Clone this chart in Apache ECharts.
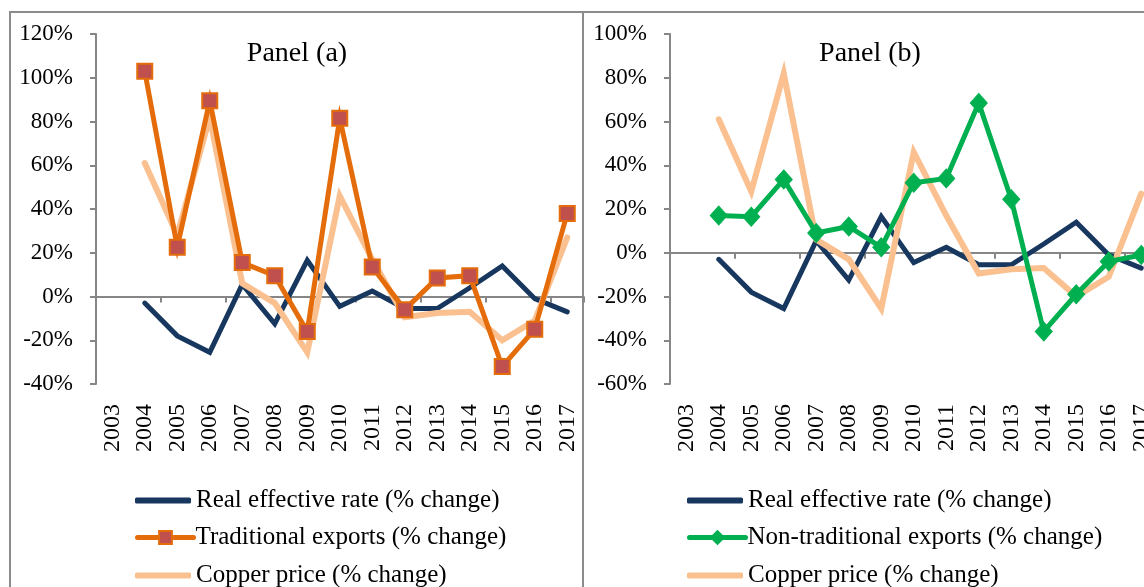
<!DOCTYPE html>
<html>
<head>
<meta charset="utf-8">
<script src="https://cdn.jsdelivr.net/npm/echarts@6/dist/echarts.min.js"></script>
<style>
  html, body { margin: 0; padding: 0; background: #fff; }
  #main { width: 1144px; height: 587px; }
</style>
</head>
<body>
<div id="main"></div>
<script>
// years on the x axis
var years = ['2003', '2004', '2005', '2006', '2007', '2008', '2009', '2010',
  '2011', '2012', '2013', '2014', '2015', '2016', '2017'];

// % change (2003 has no value)
var realRate = [null, -3, -18, -25.5, 5.5, -12.5, 16.5, -4.5, 2.5, -5.5, -5.5, 4, 14, -1, -7];
var tradExports = [null, 103, 22.5, 89.5, 15.5, 9.5, -16, 81.5, 13.5, -6, 8.5, 9.5, -32, -15, 38];
var nonTradExports = [null, 17, 16.5, 33.5, 9, 12, 2.5, 32, 34, 68.5, 24.5, -36, -19, -4, -1];
var copperPrice = [null, 61, 28, 82, 6, -3, -25.5, 46, 17, -9.5, -7.5, -7, -20, -11, 27];

var FONT = 'Liberation Serif';
var axisGray = '#868686';
var navy = '#17375E';
var orange = '#E46C0A';
var peach = '#FAC090';
var green = '#00B050';

var chart = echarts.init(document.getElementById('main'));

function yAxisFor(gridIndex, min, max) {
  return {
    type: 'value', gridIndex: gridIndex, min: min, max: max, interval: 20,
    axisLine: { show: true, lineStyle: { color: axisGray, width: 2 } },
    axisTick: { show: true, length: 6, lineStyle: { color: axisGray, width: 2 } },
    splitLine: { show: false },
    axisLabel: { formatter: '{value}%', color: '#000', fontFamily: FONT, fontSize: 23, margin: 23 }
  };
}

// line at zero with ticks, no labels
function zeroAxis(gridIndex) {
  return {
    type: 'category', gridIndex: gridIndex, data: years,
    axisLine: { onZero: true, lineStyle: { color: axisGray, width: 2 } },
    axisTick: { show: true, length: 6, lineStyle: { color: axisGray, width: 2 } },
    axisLabel: { show: false }
  };
}
// labels only, at the bottom
function labelAxis(gridIndex) {
  return {
    type: 'category', gridIndex: gridIndex, data: years, position: 'bottom',
    axisLine: { show: false, onZero: false },
    axisTick: { show: false },
    axisLabel: { rotate: 90, color: '#000', fontFamily: FONT, fontSize: 24, margin: 20 }
  };
}

function lineSeries(name, data, color, x, y, extra) {
  var s = {
    name: name, type: 'line', data: data, xAxisIndex: x, yAxisIndex: y,
    symbol: 'none', showSymbol: false,
    lineStyle: { color: color, width: 5, cap: 'round', join: 'miter' },
    itemStyle: { color: color },
    z: 2
  };
  for (var k in extra) s[k] = extra[k];
  return s;
}

// one legend per row so the rows stay in one column
function legendRow(left, top, name, plain) {
  return {
    orient: 'horizontal', left: left, top: top, padding: 0,
    itemWidth: 56, itemHeight: plain ? 6 : 16,
    icon: plain ? 'roundRect' : undefined,
    lineStyle: { width: 5 },
    textStyle: { fontFamily: FONT, fontSize: 25, color: '#000', padding: [0, 0, 0, plain ? 0 : -3] },
    data: [name]
  };
}

var option = {
  backgroundColor: '#fff',
  animation: false,
  title: [
    { text: 'Panel (a)', left: 292, top: 35, textAlign: 'center',
      textStyle: { fontFamily: FONT, fontSize: 28, fontWeight: 'normal', color: '#000' } },
    { text: 'Panel (b)', left: 865, top: 35, textAlign: 'center',
      textStyle: { fontFamily: FONT, fontSize: 28, fontWeight: 'normal', color: '#000' } }
  ],
  graphic: [
    { type: 'polyline', shape: { points: [[10, 600], [10, 12], [1150, 12]] },
      style: { stroke: '#8c8c8c', lineWidth: 2, fill: null }, silent: true },
    { type: 'line', shape: { x1: 583, y1: 12, x2: 583, y2: 600 },
      style: { stroke: '#8c8c8c', lineWidth: 2 }, silent: true }
  ],
  legend: [
    legendRow(135, 488, 'Real effective rate (% change)', true),
    legendRow(135, 525, 'Traditional exports (% change)', false),
    legendRow(135, 563, 'Copper price (% change)', true),
    legendRow(687, 488, 'Real effective rate (% change) ', true),
    legendRow(687, 525, 'Non-traditional exports (% change)', false),
    legendRow(687, 563, 'Copper price (% change) ', true)
  ],
  grid: [
    { left: 96, top: 34, width: 487.5, height: 350, outerBoundsMode: 'none' },
    { left: 670, top: 34, width: 487.5, height: 350, outerBoundsMode: 'none' }
  ],
  xAxis: [zeroAxis(0), labelAxis(0), zeroAxis(1), labelAxis(1)],
  yAxis: [yAxisFor(0, -40, 120), yAxisFor(1, -60, 100)],
  series: [
    lineSeries('Real effective rate (% change)', realRate, navy, 0, 0),
    lineSeries('Traditional exports (% change)', tradExports, orange, 0, 0, {
      symbol: 'rect', symbolSize: 15, showSymbol: true,
      itemStyle: { color: '#C0504D', borderColor: orange, borderWidth: 2 }, z: 3
    }),
    lineSeries('Copper price (% change)', copperPrice, peach, 0, 0, {
      lineStyle: { color: peach, width: 6, cap: 'round', join: 'miter' }
    }),
    lineSeries('Real effective rate (% change) ', realRate, navy, 2, 1),
    lineSeries('Non-traditional exports (% change)', nonTradExports, green, 2, 1, {
      symbol: 'diamond', symbolSize: [17, 19], showSymbol: true,
      itemStyle: { color: green, borderColor: green, borderWidth: 1 }, z: 3
    }),
    lineSeries('Copper price (% change) ', copperPrice, peach, 2, 1, {
      lineStyle: { color: peach, width: 6, cap: 'round', join: 'miter' }
    })
  ]
};

chart.setOption(option);
</script>
</body>
</html>
